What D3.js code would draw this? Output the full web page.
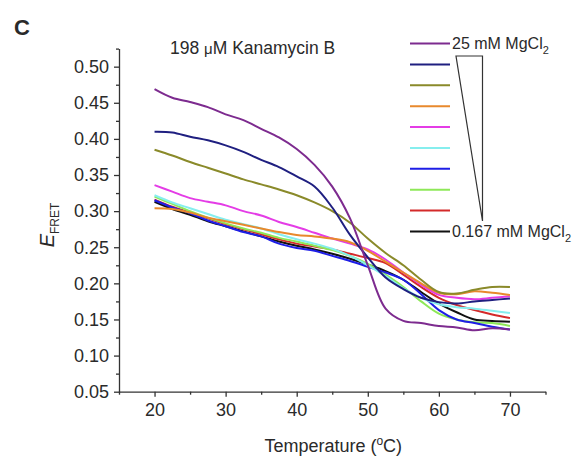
<!DOCTYPE html>
<html>
<head>
<meta charset="utf-8">
<script src="https://cdn.jsdelivr.net/npm/d3@7"></script>
<style>
  html, body { margin: 0; padding: 0; background: #fff; }
  svg { display: block; }
</style>
</head>
<body>
<div id="chart"></div>
<script>
// ---- Data (E_FRET vs temperature, 10 MgCl2 levels) ----
const temps = [20, 22.5, 25, 27.5, 30, 32.5, 35, 37.5, 40, 42.5, 45, 47.5, 50, 52.5, 55, 57.5, 60, 62.5, 65, 67.5, 70];

const seriesNames = ['25 mM', 's2', 's3', 's4', 's5', 's6', 's7', 's8', 's9', '0.167 mM'];
const seriesColors = ['#7d2b8f', '#1f1f80', '#8a8a2a', '#e8892c', '#e43ce6', '#86eeee', '#1e1ee6', '#8ee858', '#d42a2a', '#111111'];

const purple  = [0.469, 0.457, 0.451, 0.444, 0.434, 0.426, 0.414, 0.402, 0.386, 0.364, 0.334, 0.290, 0.225, 0.165, 0.148, 0.145, 0.141, 0.139, 0.135, 0.138, 0.136];
const navy    = [0.410, 0.409, 0.403, 0.398, 0.391, 0.382, 0.371, 0.361, 0.348, 0.334, 0.305, 0.267, 0.236, 0.208, 0.192, 0.180, 0.174, 0.172, 0.175, 0.177, 0.179];
const olive   = [0.385, 0.377, 0.368, 0.360, 0.352, 0.344, 0.337, 0.330, 0.322, 0.312, 0.300, 0.284, 0.262, 0.242, 0.225, 0.205, 0.188, 0.186, 0.191, 0.195, 0.195];
const orange  = [0.304, 0.303, 0.298, 0.291, 0.286, 0.281, 0.276, 0.271, 0.267, 0.265, 0.262, 0.257, 0.245, 0.230, 0.215, 0.200, 0.187, 0.185, 0.189, 0.187, 0.184];
const magenta = [0.336, 0.327, 0.318, 0.313, 0.308, 0.300, 0.294, 0.285, 0.278, 0.270, 0.262, 0.255, 0.247, 0.233, 0.215, 0.198, 0.184, 0.180, 0.178, 0.180, 0.182];
const cyan    = [0.322, 0.312, 0.304, 0.296, 0.288, 0.282, 0.276, 0.268, 0.261, 0.255, 0.248, 0.238, 0.225, 0.210, 0.193, 0.180, 0.171, 0.167, 0.165, 0.162, 0.159];
const blue    = [0.315, 0.305, 0.297, 0.287, 0.279, 0.271, 0.265, 0.255, 0.249, 0.245, 0.238, 0.231, 0.223, 0.215, 0.205, 0.185, 0.163, 0.150, 0.145, 0.140, 0.136];
const green   = [0.320, 0.310, 0.300, 0.291, 0.283, 0.276, 0.270, 0.263, 0.258, 0.252, 0.246, 0.238, 0.227, 0.212, 0.195, 0.175, 0.158, 0.150, 0.146, 0.145, 0.141];
const red     = [0.316, 0.306, 0.298, 0.290, 0.282, 0.275, 0.268, 0.261, 0.255, 0.251, 0.247, 0.241, 0.235, 0.228, 0.212, 0.195, 0.180, 0.170, 0.163, 0.157, 0.152];
const black   = [0.313, 0.303, 0.295, 0.286, 0.279, 0.272, 0.265, 0.258, 0.252, 0.247, 0.241, 0.234, 0.226, 0.217, 0.205, 0.188, 0.172, 0.160, 0.150, 0.148, 0.147];

const seriesValues = [purple, navy, olive, orange, magenta, cyan, blue, green, red, black];

const xTicks = [20, 30, 40, 50, 60, 70];
const xMinorTicks = [15, 25, 35, 45, 55, 65, 75];
const yTicks = [0.05, 0.10, 0.15, 0.20, 0.25, 0.30, 0.35, 0.40, 0.45, 0.50];
const yMinorTicks = [0.075, 0.125, 0.175, 0.225, 0.275, 0.325, 0.375, 0.425, 0.475, 0.525];

// ---- Layout ----
const W = 580, H = 466;
const FONT = 'Liberation Sans, Arial, Helvetica, sans-serif';
const INK = '#2a2a2a';

const svg = d3.select('#chart').append('svg')
  .attr('width', W).attr('height', H)
  .attr('viewBox', `0 0 ${W} ${H}`);

const x = d3.scaleLinear().domain([15, 75]).range([119, 545.5]);
const y = d3.scaleLinear().domain([0.05, 0.525]).range([391.7, 48.6]);

// ---- Axes ----
svg.append('g').attr('transform', `translate(${x(15)},0)`)
  .call(d3.axisLeft(y).tickValues(yTicks).tickSize(5).tickSizeOuter(0).tickPadding(5).tickFormat(d3.format('.2f')));
svg.append('g').attr('transform', `translate(${x(15)},0)`)
  .call(d3.axisLeft(y).tickValues(yMinorTicks).tickSize(3).tickFormat(''))
  .call(g => g.select('.domain').remove());

svg.append('g').attr('transform', `translate(0,${y(0.05)})`)
  .call(d3.axisBottom(x).tickValues(xTicks).tickSize(5).tickSizeOuter(0).tickPadding(7).tickFormat(d3.format('d')));
svg.append('g').attr('transform', `translate(0,${y(0.05)})`)
  .call(d3.axisBottom(x).tickValues(xMinorTicks).tickSize(3).tickFormat(''))
  .call(g => g.select('.domain').remove());

svg.selectAll('.domain, .tick line').attr('stroke', '#333').attr('stroke-width', 1.3);
svg.selectAll('.tick text')
  .attr('font-family', FONT).attr('font-size', 18).attr('fill', INK);

// ---- Curves ----
// drawn low-Mg first so the 25 mM trace sits on top where it crosses the rest
const line = d3.line()
  .x((d, i) => x(temps[i]))
  .y(d => y(d))
  .curve(d3.curveCatmullRom.alpha(0.5));

const order = d3.range(seriesValues.length).reverse();
svg.append('g').selectAll('path')
  .data(order).join('path')
  .attr('fill', 'none')
  .attr('stroke', i => seriesColors[i])
  .attr('stroke-width', 2)
  .attr('stroke-linejoin', 'round')
  .attr('d', i => line(seriesValues[i]));

// ---- Legend ----
const legendY = d3.scaleLinear().domain([0, 9]).range([43.5, 231.5]);
const lg = svg.append('g');
lg.selectAll('line')
  .data(seriesColors).join('line')
  .attr('x1', 410).attr('x2', 450)
  .attr('y1', (d, i) => legendY(i)).attr('y2', (d, i) => legendY(i))
  .attr('stroke', d => d).attr('stroke-width', 2);

const legendLabel = (i, txt) => {
  const t = lg.append('text')
    .attr('x', 452).attr('y', legendY(i) + 5.5)
    .attr('font-family', FONT).attr('font-size', 16).attr('fill', INK);
  t.append('tspan').text(txt);
  t.append('tspan').attr('font-size', 11).attr('dy', 5).text('2');
};
legendLabel(0, '25 mM MgCl');
legendLabel(9, '0.167 mM MgCl');

// gradient wedge
lg.append('path')
  .attr('d', `M456,56 L482.5,56 L482.5,221 Z`)
  .attr('fill', 'none').attr('stroke', '#333').attr('stroke-width', 1.2);

// ---- Titles ----
const title = svg.append('text')
  .attr('x', 170).attr('y', 54)
  .attr('font-family', FONT).attr('font-size', 17.5).attr('fill', INK);
title.append('tspan').text('198 ');
title.append('tspan').attr('font-size', 15).text('μ');
title.append('tspan').text('M Kanamycin B');

svg.append('text')
  .attr('x', 14).attr('y', 35)
  .attr('font-family', FONT).attr('font-size', 22).attr('font-weight', 'bold').attr('fill', INK)
  .text('C');

const xt = svg.append('text')
  .attr('x', x(45) + 1).attr('y', 452)
  .attr('text-anchor', 'middle')
  .attr('font-family', FONT).attr('font-size', 18).attr('fill', INK);
xt.append('tspan').text('Temperature (');
xt.append('tspan').attr('font-size', 12).attr('dy', -7).text('o');
xt.append('tspan').attr('dy', 7).text('C)');

const yt = svg.append('text')
  .attr('transform', `translate(54,225) rotate(-90)`)
  .attr('text-anchor', 'middle')
  .attr('font-family', FONT).attr('font-size', 20).attr('fill', INK);
yt.append('tspan').attr('font-style', 'italic').text('E');
yt.append('tspan').attr('font-size', 12).attr('dy', 5).text('FRET');
</script>
</body>
</html>
